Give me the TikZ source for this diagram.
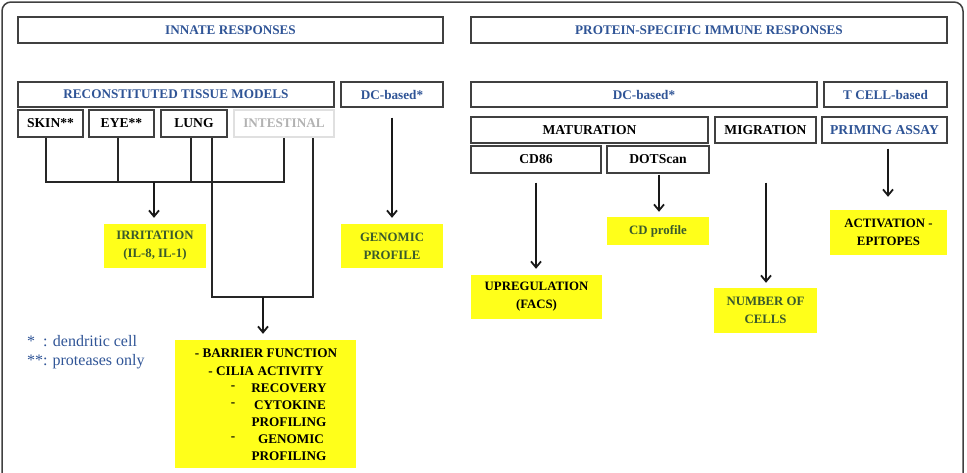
\documentclass[tikz,border=0pt]{standalone}
\usepackage{fontspec}
\setmainfont{Liberation Serif}
\usetikzlibrary{arrows.meta,calc}
\definecolor{hblue}{HTML}{2F5496}
\definecolor{dgreen}{HTML}{3A5A2C}
\definecolor{ybox}{HTML}{FFFF1A}
\definecolor{edge}{HTML}{404040}
\begin{document}
\begin{tikzpicture}[x=1pt,y=-1pt,
  box/.style={draw=edge,line width=1.1pt,inner sep=0pt,font=\bfseries\fontsize{13.2}{15}\selectfont},
  bluebox/.style={box,text=hblue},
  blackbox/.style={box,text=black,font=\bfseries\fontsize{13.6}{15}\selectfont},
  greybox/.style={draw=black!12,line width=1.1pt,inner sep=0pt,text=black!30,font=\bfseries\fontsize{13.2}{15}\selectfont},
  ybx/.style={fill=ybox,inner sep=0pt,align=center,font=\bfseries\fontsize{12.8}{18}\selectfont},
  gtext/.style={ybx,text=dgreen},
  ktext/.style={ybx,text=black},
  conn/.style={draw=black!85,line width=1.1pt},
  arr/.style={draw=black!90,line width=1.8pt,-{Straight Barb[length=6pt,width=10pt,line width=1.8pt]}},
  lbl/.style={inner sep=0pt,font=\bfseries\fontsize{13.2}{17}\selectfont},
  note/.style={inner sep=0pt,anchor=west,text=hblue,font=\fontsize{16}{18}\selectfont}]
\useasboundingbox (0,0) rectangle (967,472);
\begin{scope}
\clip (0,0) rectangle (967,472);
\draw[draw=black!75,line width=1.5pt,rounded corners=9pt] (2,2) rectangle (963,490);
\end{scope}
% headers
\node[bluebox,minimum width=425pt,minimum height=26pt] (innate) at (230.5,30) {INNATE RESPONSES};
\node[bluebox,minimum width=476pt,minimum height=26pt] (protein) at (709,30) {PROTEIN-SPECIFIC IMMUNE RESPONSES};
\node[bluebox,minimum width=316pt,minimum height=25pt] (rtm) at (176,94.5) {RECONSTITUTED TISSUE MODELS};
\node[bluebox,minimum width=102pt,minimum height=25pt] (dcl) at (392,94.5) {DC-based*};
\node[blackbox,minimum width=65pt,minimum height=27pt] (skin) at (50.5,123.5) {SKIN**};
\node[blackbox,minimum width=65pt,minimum height=27pt] (eye) at (121.5,123.5) {EYE**};
\node[blackbox,minimum width=66pt,minimum height=27pt] (lung) at (194,123.5) {LUNG};
\node[greybox,minimum width=100pt,minimum height=27pt] (intest) at (284,123.5) {INTESTINAL};
\node[bluebox,minimum width=346pt,minimum height=25pt] (dcr) at (644,94.5) {DC-based*};
\node[bluebox,minimum width=123pt,minimum height=25pt] (tcell) at (885.5,94.5) {T CELL-based};
\node[blackbox,minimum width=237pt,minimum height=26pt] (matur) at (589.5,130) {MATURATION};
\node[blackbox,minimum width=101pt,minimum height=26pt] (migr) at (765.5,130) {MIGRATION};
\node[bluebox,minimum width=125pt,minimum height=26pt,font=\bfseries\fontsize{13.6}{15}\selectfont] (prim) at (884.5,130) {PRIMING ASSAY};
\node[blackbox,minimum width=130pt,minimum height=27pt] (cd86) at (536,159.5) {CD86};
\node[blackbox,minimum width=102pt,minimum height=27pt] (dots) at (658,159.5) {DOTScan};
% yellow result boxes
\node[gtext,minimum width=102pt,minimum height=44pt] (irr) at (155,246) {IRRITATION\\(IL-8, IL-1)};
\node[gtext,minimum width=102pt,minimum height=44pt] (gen) at (392,246) {GENOMIC\\PROFILE};
\node[ktext,minimum width=181pt,minimum height=128pt] (eff) at (265.5,404) {};
\node[ktext,minimum width=131pt,minimum height=44pt] (upreg) at (536.5,297) {UPREGULATION\\(FACS)};
\node[gtext,minimum width=102pt,minimum height=28pt] (cdprof) at (658,231) {CD profile};
\node[gtext,minimum width=103pt,minimum height=45pt] (numc) at (765.5,310.5) {NUMBER OF\\CELLS};
\node[ktext,minimum width=117pt,minimum height=45pt] (activ) at (888.5,232.5) {ACTIVATION -\\EPITOPES};
% text inside the large yellow box
\node[lbl] (e1) at (266,353) {- BARRIER FUNCTION};
\node[lbl] (e2) at (266,371) {- CILIA ACTIVITY};
\node[lbl] (d1) at (233,388) {-};
\node[lbl] (e3) at (289,388) {RECOVERY};
\node[lbl] (d2) at (233,405) {-};
\node[lbl] (e4) at (290,405) {CYTOKINE};
\node[lbl] (e5) at (289,422) {PROFILING};
\node[lbl] (d3) at (233,439) {-};
\node[lbl] (e6) at (291,439) {GENOMIC};
\node[lbl] (e7) at (289,456) {PROFILING};
% notes
\node[note] (n1) at (27,341) {*\hspace{8pt}: dendritic cell};
\node[note] (n2) at (27,362) {**:\hspace{5pt}proteases only};
% bracket 1: all tissue models -> irritation
\coordinate (b1L) at (46,182);
\coordinate (b1R) at (284,182);
\coordinate (b1M) at (154,182);
\draw[conn] ([xshift=-4.5pt]skin.south) -- (b1L) -- (b1R) -- (intest.south);
\draw[conn] ([xshift=-3.5pt]eye.south) -- ([xshift=-3.5pt]eye.south |- b1L);
\draw[conn] ([xshift=-3pt]lung.south) -- ([xshift=-3pt]lung.south |- b1L);
\draw[arr,shorten >=6pt] (b1M) -- (b1M |- irr.north);
% bracket 2: lung and intestinal -> barrier function etc.
\coordinate (b2L) at (212,297);
\coordinate (b2R) at (313,297);
\coordinate (b2M) at (263,297);
\draw[conn] ([xshift=18pt]lung.south) -- (b2L) -- (b2R) -- ([xshift=29pt]intest.south);
\draw[arr,shorten >=6pt] (b2M) -- (b2M |- eff.north);
% DC-based (innate) -> genomic profile
\draw[arr,shorten <=10pt,shorten >=6pt] (dcl.south) -- (gen.north);
% right side arrows
\draw[arr,shorten <=9pt,shorten >=6pt] (cd86.south) -- (cd86.south |- upreg.north);
\draw[arr,shorten <=1pt,shorten >=5pt] ([xshift=1pt]dots.south) -- ([xshift=1pt]dots.south |- cdprof.north);
\draw[arr,shorten <=39pt,shorten >=5pt] ([xshift=0.5pt]migr.south) -- ([xshift=0.5pt]migr.south |- numc.north);
\draw[arr,shorten <=5pt,shorten >=13pt] ([xshift=3.5pt]prim.south) -- ([xshift=3.5pt]prim.south |- activ.north);
\end{tikzpicture}
\end{document}
